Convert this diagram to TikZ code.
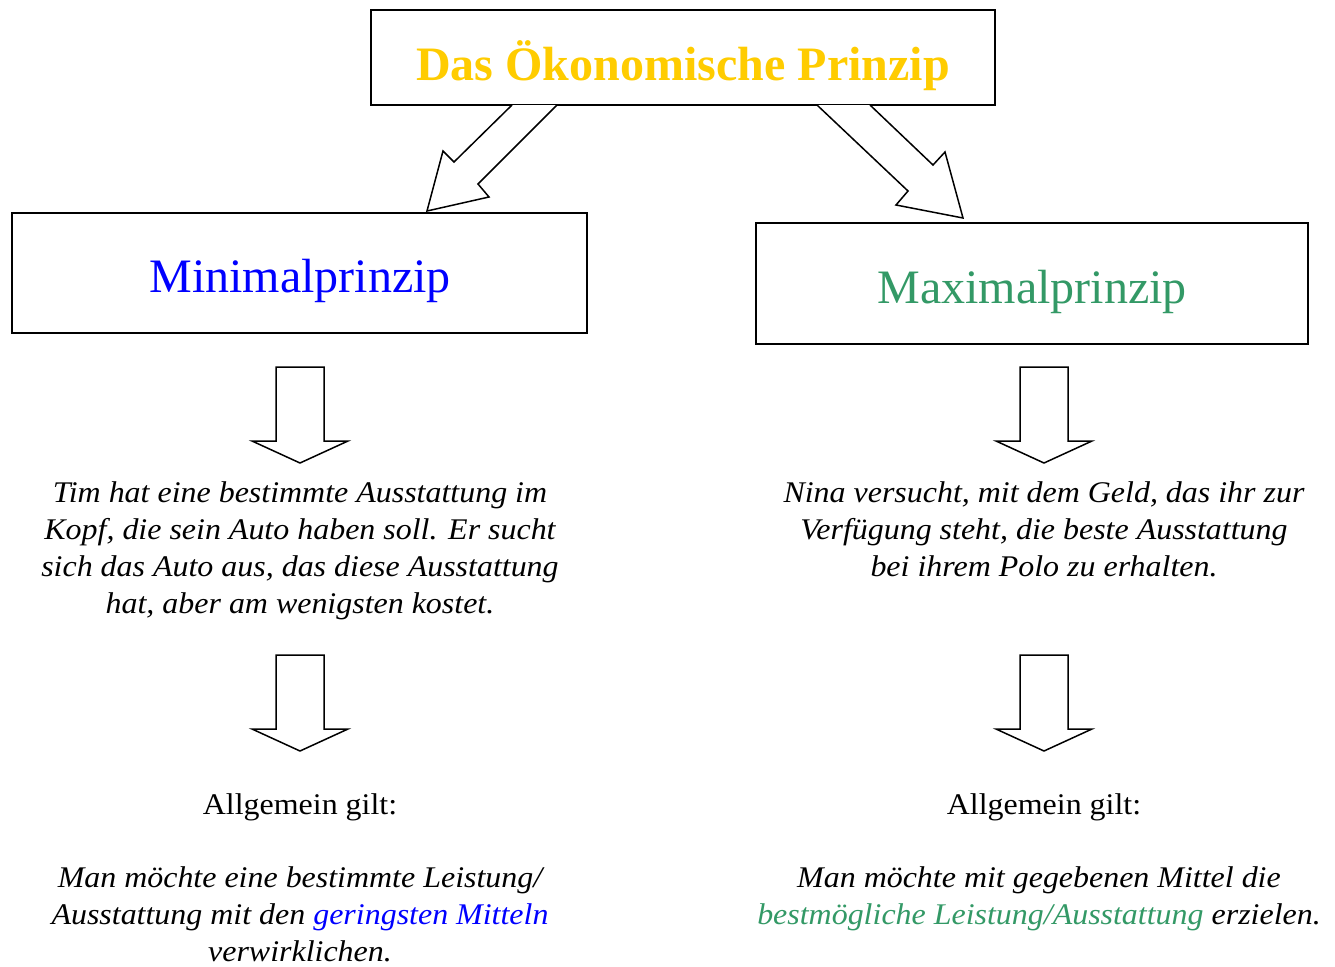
\documentclass[tikz,border=0pt]{standalone}
\usepackage{fontspec}
\setmainfont{Liberation Serif}
\newfontfamily\wideserif[FakeStretch=1.065]{Liberation Serif}
\definecolor{gold}{HTML}{FFCC00}
\definecolor{mgreen}{HTML}{339966}
\definecolor{mblue}{HTML}{0000FF}
\begin{document}
\begin{tikzpicture}[x=1pt,y=-1pt,
  box/.style={draw,line width=2pt,inner sep=0pt},
  big/.style={font={\fontsize{48}{58}\selectfont}},
  body/.style={font={\wideserif\fontsize{30}{37}\selectfont\itshape},align=center,inner sep=0pt},
  plain/.style={font={\wideserif\fontsize{30}{37}\selectfont},inner sep=0pt},
  blockarrow/.style={draw,line width=1.5pt,line join=miter,fill=white}]
\useasboundingbox[fill=white] (0,0) rectangle (1335,966);
% boxes
\node[box,minimum width=624pt,minimum height=95pt] (top) at (683,57.5) {};
\node[big,text=gold,anchor=base,inner sep=0pt] (toptext) at (683,80) {\bfseries Das Ökonomische Prinzip};
\node[box,minimum width=575pt,minimum height=120pt] (minbox) at (299.5,273) {};
\node[big,text=mblue,anchor=base,inner sep=0pt] (mintext) at (300,292) {Minimalprinzip};
\node[box,minimum width=552pt,minimum height=121pt] (maxbox) at (1032,283.5) {};
\node[big,text=mgreen,anchor=base,inner sep=0pt] (maxtext) at (1032,303) {Maximalprinzip};
% diagonal block arrows
\draw[blockarrow] (512,105) -- (454,162) -- (443,151) -- (427,211) -- (489,197) -- (478,184) -- (557,105);
\draw[blockarrow] (817,105) -- (908,191) -- (896,205) -- (963,218) -- (945,152) -- (933,165) -- (870,105);
% vertical block arrows
\foreach \cx/\nm in {300/a,1044/b}{
  \foreach \yy/\k in {367/1,655/2}{
    \draw[blockarrow] (\cx-24,\yy) -- (\cx-24,\yy+74) -- (\cx-48,\yy+74) -- (\cx,\yy+96)
       -- (\cx+48,\yy+74) -- (\cx+24,\yy+74) -- (\cx+24,\yy) -- cycle;
  }
}
% texts
\node[body,anchor=north] (tim) at (300,481) {Tim hat eine bestimmte Ausstattung im\\Kopf, die sein Auto haben soll. Er sucht\\sich das Auto aus, das diese Ausstattung\\hat, aber am wenigsten kostet.};
\node[body,anchor=north] (nina) at (1044,481) {Nina versucht, mit dem Geld, das ihr zur\\Verfügung steht, die beste Ausstattung\\bei ihrem Polo zu erhalten.};
\node[plain,anchor=base] (gilt1) at (300,814) {Allgemein gilt:};
\node[plain,anchor=base] (gilt2) at (1044,814) {Allgemein gilt:};
\node[body,anchor=north] (rule1) at (300,866) {Man möchte eine bestimmte Leistung/\\Ausstattung mit den \textcolor{mblue}{geringsten Mitteln}\\verwirklichen.};
\node[body,anchor=north] (rule2) at (1039,866) {Man möchte mit gegebenen Mittel die\\\textcolor{mgreen}{bestmögliche Leistung/Ausstattung} erzielen.};
\end{tikzpicture}
\end{document}
